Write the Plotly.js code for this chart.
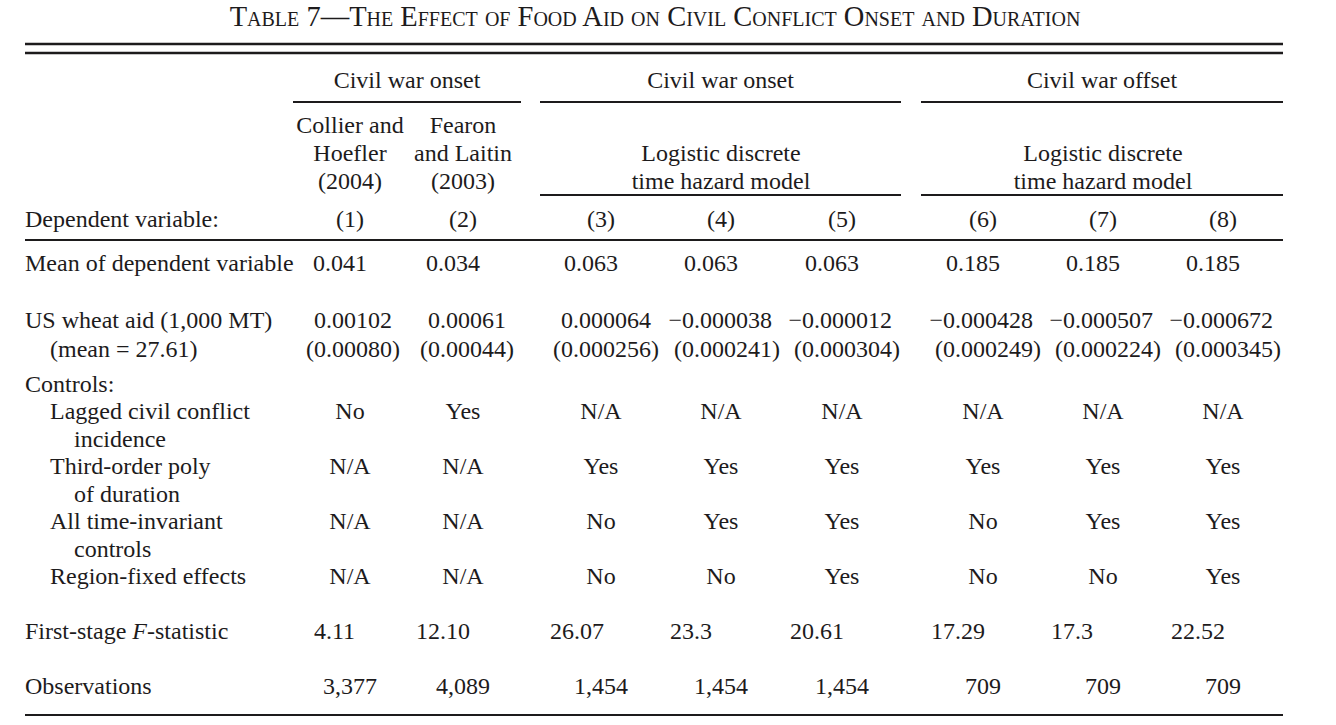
<!DOCTYPE html>
<html>
<head>
<meta charset="utf-8">
<script src="https://cdn.plot.ly/plotly-3.0.1.min.js"></script>
<style>html,body{margin:0;padding:0;background:#fff;}#chart{width:1336px;height:725px;}</style>
</head>
<body>
<div id="chart"></div>
<script>
// ---------------- DATA ----------------
const tableTitle = 'Table 7—The Effect of Food Aid on Civil Conflict Onset and Duration';
const groupHeaders = ['Civil war onset', 'Civil war onset', 'Civil war offset'];
const methodHeaders = [
  ['Collier and', 'Hoefler', '(2004)'],
  ['Fearon', 'and Laitin', '(2003)'],
  ['Logistic discrete', 'time hazard model'],
  ['Logistic discrete', 'time hazard model']
];
const columnLabels = ['(1)', '(2)', '(3)', '(4)', '(5)', '(6)', '(7)', '(8)'];
const depVarLabel = 'Dependent variable:';
const meanLabel = 'Mean of dependent variable';
const meanDep = ['0.041', '0.034', '0.063', '0.063', '0.063', '0.185', '0.185', '0.185'];
const wheatLabel = ['US wheat aid (1,000 MT)', '(mean = 27.61)'];
const wheatCoef = ['0.00102', '0.00061', '0.000064', '−0.000038', '−0.000012', '−0.000428', '−0.000507', '−0.000672'];
const wheatSE = ['(0.00080)', '(0.00044)', '(0.000256)', '(0.000241)', '(0.000304)', '(0.000249)', '(0.000224)', '(0.000345)'];
const controlsLabel = 'Controls:';
const controlLabels = [
  ['Lagged civil conflict', 'incidence'],
  ['Third-order poly', 'of duration'],
  ['All time-invariant', 'controls'],
  ['Region-fixed effects']
];
const laggedIncidence = ['No', 'Yes', 'N/A', 'N/A', 'N/A', 'N/A', 'N/A', 'N/A'];
const thirdOrderPoly = ['N/A', 'N/A', 'Yes', 'Yes', 'Yes', 'Yes', 'Yes', 'Yes'];
const timeInvariant = ['N/A', 'N/A', 'No', 'Yes', 'Yes', 'No', 'Yes', 'Yes'];
const regionFE = ['N/A', 'N/A', 'No', 'No', 'Yes', 'No', 'No', 'Yes'];
const fStatLabel = 'First-stage <i>F</i>-statistic';
const firstStageF = ['4.11', '12.10', '26.07', '23.3', '20.61', '17.29', '17.3', '22.52'];
const obsLabel = 'Observations';
const observations = ['3,377', '4,089', '1,454', '1,454', '1,454', '709', '709', '709'];

// ---------------- LAYOUT (positions / styles) ----------------
const FONT = 'Liberation Serif, "Times New Roman", Times, serif';
const INK = '#1d1b1c';
const FS = 24;
const colCenter = [350, 463, 601, 721, 842, 983, 1103, 1223];
const groupSpan = [[293, 521], [540, 901], [921, 1283]];
const methodCenter = [350, 463, 721, 1103];
const leftMain = 25, leftIndent = 50, leftCont = 74, tableRight = 1283;
const seRightShift = [50, 51, 58, 59, 58, 58, 58, 58];
const coefGap = 8;
const meanLeftShift = -37;
const fLeftShift = [-36, -47, -51, -51, -52, -52, -52, -52];
const DY = 2;
const Y = {group: 80 + DY, meth3: [125 + DY, 153 + DY, 181 + DY], meth2: [153 + DY, 181 + DY], dep: 219 + DY, mean: 263 + DY,
           coef: 320 + DY, se: 349 + DY, controls: 384 + DY, ctrl: [411 + DY, 466 + DY, 521 + DY, 576 + DY], cont: 28,
           f: 631 + DY, obs: 686 + DY};

const traces = [];
function addText(xs, ys, texts, pos) {
  traces.push({
    type: 'scatter', mode: 'text', x: xs, y: ys, text: texts,
    textposition: pos, hoverinfo: 'skip', showlegend: false, cliponaxis: false,
    textfont: {family: FONT, size: FS, color: INK}
  });
}
const rep = (v, n) => Array.from({length: n}, () => v);

// group headers
addText(groupSpan.map(s => (s[0] + s[1]) / 2), rep(Y.group, 3), groupHeaders, 'middle center');
// method headers
methodHeaders.forEach((lines, i) => {
  const ys = lines.length === 3 ? Y.meth3 : Y.meth2;
  addText(rep(methodCenter[i], lines.length), ys, lines, 'middle center');
});
// column labels
addText(colCenter, rep(Y.dep, 8), columnLabels, 'middle center');
// stub labels
addText([leftMain, leftMain, leftMain, leftIndent, leftMain, leftMain, leftMain],
        [Y.dep, Y.mean, Y.coef, Y.se, Y.controls, Y.f, Y.obs],
        [depVarLabel, meanLabel, wheatLabel[0], wheatLabel[1], controlsLabel, fStatLabel, obsLabel],
        'middle right');
controlLabels.forEach((lines, i) => {
  addText([leftIndent], [Y.ctrl[i]], [lines[0]], 'middle right');
  if (lines[1]) addText([leftCont], [Y.ctrl[i] + Y.cont], [lines[1]], 'middle right');
});
// mean of dependent variable
addText(colCenter.map(c => c + meanLeftShift), rep(Y.mean, 8), meanDep, 'middle right');
// coefficients and standard errors (right aligned)
addText(colCenter.map((c, i) => c + seRightShift[i] - coefGap), rep(Y.coef, 8), wheatCoef, 'middle left');
addText(colCenter.map((c, i) => c + seRightShift[i]), rep(Y.se, 8), wheatSE, 'middle left');
// controls
[laggedIncidence, thirdOrderPoly, timeInvariant, regionFE].forEach((row, i) => {
  addText(colCenter, rep(Y.ctrl[i], 8), row, 'middle center');
});
// F-stat
addText(colCenter.map((c, i) => c + fLeftShift[i]), rep(Y.f, 8), firstStageF, 'middle right');
// observations
addText(colCenter, rep(Y.obs, 8), observations, 'middle center');

// rules
function rule(x0, x1, y, w) {
  return {type: 'line', xref: 'x', yref: 'y', x0: x0, x1: x1, y0: y, y1: y,
          line: {color: INK, width: w}};
}
const shapes = [
  rule(leftMain, tableRight, 44, 2.5),
  rule(leftMain, tableRight, 53, 2.5),
  ...groupSpan.map(s => rule(s[0], s[1], 102, 2)),
  rule(groupSpan[1][0], groupSpan[1][1], 195, 2),
  rule(groupSpan[2][0], groupSpan[2][1], 195, 2),
  rule(leftMain, tableRight, 240, 2),
  rule(leftMain, tableRight, 715, 2)
];

const layout = {
  width: 1336, height: 725,
  margin: {l: 0, r: 0, t: 0, b: 0},
  paper_bgcolor: '#fff', plot_bgcolor: '#fff',
  title: {
    text: tableTitle, x: 655 / 1336, xanchor: 'center', xref: 'container',
    y: 1 - 16 / 725, yref: 'container', yanchor: 'middle',
    font: {family: FONT, size: 28.5, color: INK, variant: 'small-caps'}
  },
  xaxis: {range: [0, 1336], visible: false, fixedrange: true},
  yaxis: {range: [725, 0], visible: false, fixedrange: true},
  shapes: shapes,
  showlegend: false
};

Plotly.newPlot('chart', traces, layout, {displayModeBar: false, staticPlot: true});
</script>
</body>
</html>
